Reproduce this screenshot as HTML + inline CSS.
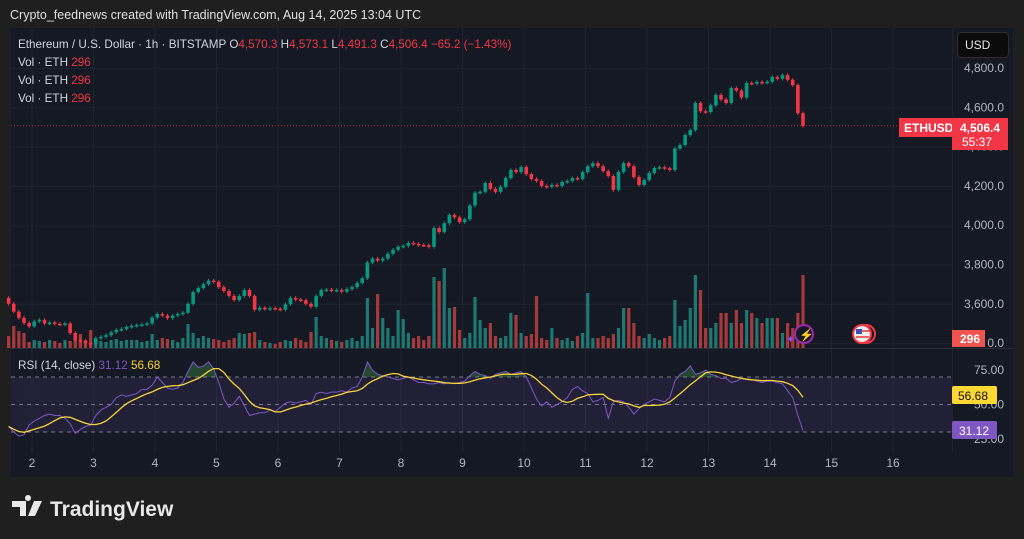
<!DOCTYPE html>
<html><head><meta charset="utf-8"><style>
html,body{margin:0;padding:0;background:#1f1f1f;width:1024px;height:539px;overflow:hidden}
svg{display:block;font-family:"Liberation Sans",sans-serif}
</style></head><body>
<svg id="c" width="1024" height="539" viewBox="0 0 1024 539">
<rect x="0" y="0" width="1024" height="539" fill="#1f1f1f"/>
<text x="10" y="19" font-size="12.5" fill="#e0e0e0">Crypto_feednews created with TradingView.com, Aug 14, 2025 13:04 UTC</text>
<rect x="11" y="28" width="1002" height="449" fill="#151924"/>
<g id="grid"></g>
<rect x="11" y="377" width="941" height="55" fill="rgba(126,87,194,0.12)"/>
<g id="rsiG"></g>
<g id="vol"></g>
<g id="candles"></g>
<line x1="11" y1="348.5" x2="1013" y2="348.5" stroke="#2a2e39"/>
<line x1="952.5" y1="28" x2="952.5" y2="452" stroke="#1f2330"/>
<g id="axes"></g>
<g font-size="11.7">
<text x="18" y="48" fill="#d1d4dc">Ethereum / U.S. Dollar · 1h · BITSTAMP  <tspan>O</tspan><tspan fill="#f23645">4,570.3</tspan>  <tspan>H</tspan><tspan fill="#f23645">4,573.1</tspan>  <tspan>L</tspan><tspan fill="#f23645">4,491.3</tspan>  <tspan>C</tspan><tspan fill="#f23645">4,506.4  −65.2 (−1.43%)</tspan></text>
<text x="18" y="66" fill="#d1d4dc">Vol · ETH  <tspan fill="#f23645">296</tspan></text>
<text x="18" y="84" fill="#d1d4dc">Vol · ETH  <tspan fill="#f23645">296</tspan></text>
<text x="18" y="102" fill="#d1d4dc">Vol · ETH  <tspan fill="#f23645">296</tspan></text>
<text x="18" y="369" fill="#d1d4dc">RSI (14, close)  <tspan fill="#7e57c2">31.12</tspan>  <tspan fill="#f7d23a">56.68</tspan></text>
</g>
<rect x="957.5" y="32.5" width="51" height="25" rx="4" fill="#0b0b0b" stroke="#2e2e2e"/>
<text x="965" y="49" font-size="12" fill="#e8e8e8">USD</text>
<line id="lastLine" x1="11" x2="952" stroke="#f23645" stroke-width="1" stroke-dasharray="1,2" opacity="0.7"/>
<rect x="899" y="118" width="53" height="19" fill="#f23645"/>
<text x="904" y="132" font-size="12" font-weight="bold" fill="#fff">ETHUSD</text>
<rect x="952" y="118" width="56" height="32" fill="#f23645"/>
<text x="960" y="132" font-size="12" font-weight="bold" fill="#fff">4,506.4</text>
<text x="962" y="146" font-size="12" fill="#fff">55:37</text>
<rect x="952" y="330" width="33" height="17" fill="#ef5350"/>
<text x="960" y="343" font-size="12" font-weight="bold" fill="#fff">296</text>
<rect x="952" y="386" width="45" height="18" rx="2" fill="#fdd835"/>
<text x="958" y="400" font-size="12" fill="#111">56.68</text>
<rect x="952" y="421" width="45" height="18" rx="2" fill="#7e57c2"/>
<text x="959" y="435" font-size="12" fill="#fff">31.12</text>
<g><circle cx="804" cy="334" r="9" fill="#151924" stroke="#9c27b0" stroke-width="2"/><text x="799" y="339" font-size="12" fill="#ab47bc">⚡</text><text x="786" y="343" font-size="11" fill="#7c4dff">✦</text></g>
<g><circle cx="866" cy="334" r="9" fill="#151924" stroke="#f23645" stroke-width="2"/><circle cx="862" cy="334" r="9" fill="#eee" stroke="#f23645" stroke-width="2"/><rect x="856" y="329" width="6" height="5" fill="#3f51b5"/><line x1="856" y1="337" x2="869" y2="337" stroke="#e53935" stroke-width="1.5"/><line x1="862" y1="331" x2="870" y2="331" stroke="#e53935" stroke-width="1.5"/></g>
<g>
<path d="M12 501h14v15h-6v-9h-8z M28 501a3 3 0 1 1 0.01 0z M34 501h8l-7 15h-7z" fill="#e8e8e8"/>
<text x="50" y="516" font-size="21" font-weight="bold" fill="#e8e8e8">TradingView</text>
</g>
<script>
const closes=[3600,3560,3528,3502,3485,3510,3518,3500,3505,3498,3495,3500,3451,3416,3410,3400,3395,3425,3432,3440,3455,3467,3472,3482,3488,3492,3495,3500,3530,3548,3540,3527,3540,3548,3555,3600,3660,3680,3700,3718,3712,3685,3665,3640,3619,3640,3670,3640,3570,3580,3572,3578,3575,3570,3598,3630,3622,3618,3600,3585,3640,3670,3672,3668,3670,3662,3675,3685,3706,3730,3810,3830,3820,3830,3855,3875,3890,3895,3910,3905,3899,3898,3890,3985,3965,4010,4052,4040,4016,4030,4100,4165,4170,4215,4185,4170,4195,4240,4281,4270,4296,4260,4235,4225,4200,4195,4205,4200,4220,4225,4240,4235,4270,4300,4316,4300,4275,4250,4180,4271,4316,4300,4245,4205,4230,4266,4291,4295,4290,4281,4390,4408,4459,4484,4622,4580,4576,4610,4663,4640,4622,4698,4685,4650,4724,4720,4729,4725,4730,4754,4745,4764,4740,4713,4570,4506.4];
const firstOpen=3630;
const volumes=[12,22,17,15,6,8,7,6,8,7,5,8,7,14,14,8,18,6,7,6,8,9,7,8,8,8,6,7,14,8,10,9,8,6,10,24,15,10,12,10,9,8,6,8,10,15,14,15,16,8,6,5,4,6,8,7,10,8,6,16,31,12,10,8,7,6,8,10,7,12,50,20,54,30,20,12,38,29,15,10,12,8,12,71,67,80,40,41,18,10,15,51,28,20,25,12,10,12,35,33,15,12,14,52,10,8,20,10,8,10,7,12,15,55,10,10,12,10,14,20,40,40,25,12,10,14,10,8,10,12,48,22,28,40,73,58,20,20,25,35,35,25,38,25,38,35,30,25,30,30,30,15,25,20,35,73];
const rsiValues=[34,30,27,28,35,38,40,42,43,42,42,40,36,29,32,34,35,42,46,48,50,55,57,56,57,58,61,61,64,70,66,62,61,62,66,74,81,77,78,81,76,66,54,48,51,56,49,42,43,44,44,46,45,48,51,52,51,52,53,50,58,59,58,59,59,60,59,62,63,70,81,75,72,71,70,69,68,69,70,68,66,66,65,65,66,65,66,65,66,67,71,74,72,71,69,72,73,74,72,73,74,70,62,54,49,52,48,50,52,55,61,63,60,58,52,53,55,40,52,53,52,48,43,47,50,52,54,53,52,55,67,72,74,78,72,73,75,72,71,69,69,66,67,69,68,68,67,66,67,67,66,65,60,55,42,31.12];
const priceTicks=[3400,3600,3800,4000,4200,4400,4600,4800];
const priceTickLabels=["3,400.0","3,600.0","3,800.0","4,000.0","4,200.0","4,400.0","4,600.0","4,800.0"];
const rsiTicks=[25,50,75];
const rsiTickLabels=["25.00","50.00","75.00"];
const dayLabels=["2","3","4","5","6","7","8","9","10","11","12","13","14","15","16"];

const NS="http://www.w3.org/2000/svg";
function el(t,a,p){const e=document.createElementNS(NS,t);for(const k in a)e.setAttribute(k,a[k]);p.appendChild(e);return e;}
const yP=p=>68+(4800-p)*0.1965;
const xC=k=>803-(closes.length-1-k)*5.125;
const yV=v=>348-v;
const yR=r=>404.5-(r-50)*1.375;
const xDay=i=>32+i*61.5;
const grid=document.getElementById('grid'),axes=document.getElementById('axes');
priceTicks.forEach((p,i)=>{
  const g=el('line',{x1:11,x2:952,y1:yP(p)+.5,y2:yP(p)+.5,stroke:'#1f2330'},grid);
  
  
  if(yP(p)>340)return;
  const t=el('text',{x:1004,y:yP(p)+4,'font-size':12,fill:'#b2b5be','text-anchor':'end'},axes);t.textContent=priceTickLabels[i];
  
  
});
{const t=el('text',{x:1004,y:yP(3400)+4,'font-size':12,fill:'#b2b5be','text-anchor':'end'},axes);t.textContent="0.0";

}
rsiTicks.forEach((r,i)=>{
  const t=el('text',{x:1004,y:yR(r)+4,'font-size':12,fill:'#b2b5be','text-anchor':'end'},axes);t.textContent=rsiTickLabels[i];
  
  
});
dayLabels.forEach((d,i)=>{
  const x=xDay(i);
  const g=el('line',{x1:x,x2:x,y1:28,y2:452,stroke:'#1f2330'},grid);
  
  
  const t=el('text',{x:x,y:467,'font-size':12,fill:'#b2b5be','text-anchor':'middle'},axes);t.textContent=d;
  
  
});
[70,50,30].forEach(r=>{
  const l=el('line',{x1:11,x2:952,y1:yR(r),y2:yR(r),stroke:'#787b86','stroke-dasharray':'4,4','stroke-width':1},grid);
  
  
});
document.getElementById('lastLine').setAttribute('y1',yP(closes[closes.length-1]));
document.getElementById('lastLine').setAttribute('y2',yP(closes[closes.length-1]));
const cg=document.getElementById('candles'),vg=document.getElementById('vol');
closes.forEach((c,k)=>{
  const o=k?closes[k-1]:firstOpen,up=c>=o,col=up?'#089981':'#f23645',x=xC(k);
  const hi=Math.max(o,c)+9,lo=Math.min(o,c)-9;
  const w=el('line',{x1:x,x2:x,y1:yP(hi),y2:yP(lo),stroke:col,'stroke-width':1},cg);
  
  
  const top=yP(Math.max(o,c)),h=Math.max(1.5,yP(Math.min(o,c))-top);
  const b=el('rect',{x:x-1.8,y:top,width:3.6,height:h,fill:col},cg);
  
  
  const v=el('rect',{x:x-1.6,y:yV(volumes[k]),width:3.2,height:volumes[k],fill:up?'#1f8a7f':'#c0403f',opacity:0.85},vg);
  
  
});
const N=7;
const ma=rsiValues.map((r,k)=>{const s=rsiValues.slice(Math.max(0,k-N+1),k+1);return s.reduce((a,b)=>a+b,0)/s.length;});
const rg=document.getElementById('rsiG');
const defs=el('defs',{},rg);const cp=el('clipPath',{id:'above70'},defs);el('rect',{x:11,y:349,width:941,height:yR(70)-349},cp);
const pts=rsiValues.map((r,k)=>xC(k).toFixed(1)+','+yR(r).toFixed(1));
const area=el('polygon',{points:xC(0)+','+yR(70)+' '+pts.join(' ')+' '+xC(rsiValues.length-1)+','+yR(70),fill:'rgba(76,175,80,0.3)','clip-path':'url(#above70)'},rg);


const rl=el('polyline',{points:pts.join(' '),fill:'none',stroke:'#7e57c2','stroke-width':1},rg);


const ml=el('polyline',{points:ma.map((r,k)=>xC(k).toFixed(1)+','+yR(r).toFixed(1)).join(' '),fill:'none',stroke:'#f7d23a','stroke-width':1.3},rg);


</script>
</svg>
</body></html>
